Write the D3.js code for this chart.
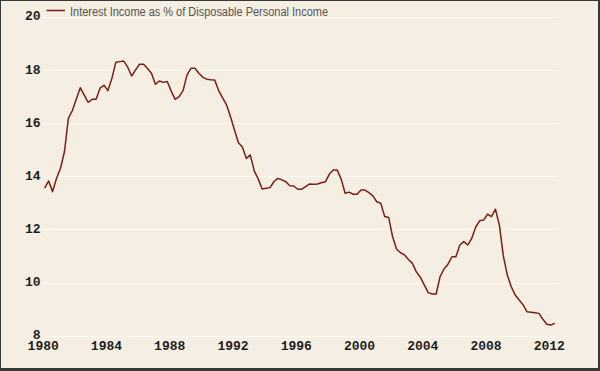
<!DOCTYPE html>
<html>
<head>
<meta charset="utf-8">
<script src="https://cdn.jsdelivr.net/npm/d3@7"></script>
<style>
  body { margin: 0; }
  svg { display: block; }
</style>
</head>
<body>
<svg id="chart"></svg>
<script>
// quarterly readings, one row per year (Q1..Q4)
var years = [1980, 1981, 1982, 1983, 1984, 1985, 1986, 1987, 1988, 1989,
             1990, 1991, 1992, 1993, 1994, 1995, 1996, 1997, 1998, 1999,
             2000, 2001, 2002, 2003, 2004, 2005, 2006, 2007, 2008, 2009,
             2010, 2011, 2012];

var interestPct = [
  [13.55, 13.82, 13.42, 13.92],
  [14.30, 14.92, 16.18, 16.47],
  [16.90, 17.33, 17.05, 16.78],
  [16.89, 16.89, 17.31, 17.42],
  [17.22, 17.68, 18.29, 18.31],
  [18.33, 18.10, 17.77, 18.00],
  [18.21, 18.21, 18.05, 17.87],
  [17.46, 17.58, 17.53, 17.56],
  [17.20, 16.89, 16.99, 17.22],
  [17.81, 18.06, 18.06, 17.87],
  [17.72, 17.65, 17.63, 17.62],
  [17.22, 16.95, 16.68, 16.24],
  [15.74, 15.26, 15.10, 14.67],
  [14.80, 14.20, 13.90, 13.52],
  [13.55, 13.57, 13.80, 13.92],
  [13.86, 13.79, 13.64, 13.63],
  [13.51, 13.51, 13.61, 13.71],
  [13.70, 13.71, 13.75, 13.79],
  [14.08, 14.23, 14.23, 13.88],
  [13.36, 13.40, 13.32, 13.32],
  [13.48, 13.48, 13.38, 13.26],
  [13.04, 12.98, 12.48, 12.45],
  [11.72, 11.25, 11.12, 11.04],
  [10.87, 10.72, 10.40, 10.20],
  [9.91, 9.62, 9.57, 9.57],
  [10.22, 10.51, 10.69, 10.97],
  [10.97, 11.41, 11.54, 11.41],
  [11.66, 12.08, 12.32, 12.35],
  [12.57, 12.48, 12.76, 12.16],
  [11.00, 10.28, 9.84, 9.53],
  [9.34, 9.16, 8.90, 8.88],
  [8.86, 8.84, 8.62, 8.43],
  [8.40, 8.47]
];

var yTicks = [8, 10, 12, 14, 16, 18, 20];
var xTicks = [1980, 1984, 1988, 1992, 1996, 2000, 2004, 2008, 2012];
var seriesName = "Interest Income as % of Disposable Personal Income";

var width = 600, height = 371;
var bg = "#f5eee2", lineColor = "#7b1f14";

var data = [];
years.forEach((yr, i) => {
  interestPct[i].forEach((v, q) => {
    data.push({ t: yr + q / 4 + 0.125, v: v });
  });
});

var svg = d3.select("#chart")
    .attr("width", width)
    .attr("height", height);

svg.append("rect")
    .attr("width", width)
    .attr("height", height)
    .attr("fill", "#383838");

svg.append("rect")
    .attr("x", 1)
    .attr("y", 1)
    .attr("width", width - 3)
    .attr("height", height - 4)
    .attr("fill", bg);

var x = d3.scaleLinear()
    .domain([1980, 2012])
    .range([42.7, 548.8]);

var y = d3.scaleLinear()
    .domain([8, 20])
    .range([335.7, 16.7]);

var gridRight = 556.5;

// gridlines
svg.append("g")
  .selectAll("line")
  .data(yTicks)
  .enter()
  .append("line")
    .attr("x1", x(1980))
    .attr("x2", gridRight)
    .attr("y1", d => Math.round(y(d)) + 0.5)
    .attr("y2", d => Math.round(y(d)) + 0.5)
    .attr("stroke", "#fdfaf4")
    .attr("stroke-width", 1.2);

// y axis labels
var yAxis = d3.axisLeft(y)
    .tickValues(yTicks)
    .tickSize(0)
    .tickPadding(0);

svg.append("g")
    .attr("transform", "translate(40.5,-1)")
    .call(yAxis)
    .call(g => g.select(".domain").remove())
    .selectAll("text")
      .attr("font-family", "'Liberation Mono', 'DejaVu Sans Mono', monospace")
      .attr("font-weight", "bold")
      .attr("font-size", 13)
      .attr("fill", "#1e1e1e");

// x axis labels
var xAxis = d3.axisBottom(x)
    .tickValues(xTicks)
    .tickFormat(d3.format("d"))
    .tickSize(0)
    .tickPadding(0);

svg.append("g")
    .attr("transform", "translate(0,340.5)")
    .call(xAxis)
    .call(g => g.select(".domain").remove())
    .selectAll("text")
      .attr("font-family", "'Liberation Mono', 'DejaVu Sans Mono', monospace")
      .attr("font-weight", "bold")
      .attr("font-size", 13)
      .attr("fill", "#1e1e1e");

// series line
var line = d3.line()
    .x(d => x(d.t))
    .y(d => y(d.v));

svg.append("path")
    .datum(data)
    .attr("d", line)
    .attr("fill", "none")
    .attr("stroke", lineColor)
    .attr("stroke-width", 1.5)
    .attr("stroke-linejoin", "round");

// legend
var legend = svg.append("g");

legend.append("line")
    .attr("x1", 46.5)
    .attr("x2", 65)
    .attr("y1", 10.5)
    .attr("y2", 10.5)
    .attr("stroke", lineColor)
    .attr("stroke-width", 1.5);

legend.append("text")
    .attr("x", 70)
    .attr("y", 16)
    .attr("font-family", "'Liberation Sans Narrow', 'Liberation Sans', Arial, sans-serif")
    .attr("font-size", 12)
    .attr("textLength", 258)
    .attr("lengthAdjust", "spacingAndGlyphs")
    .attr("fill", "#555")
    .text(seriesName);
</script>
</body>
</html>
